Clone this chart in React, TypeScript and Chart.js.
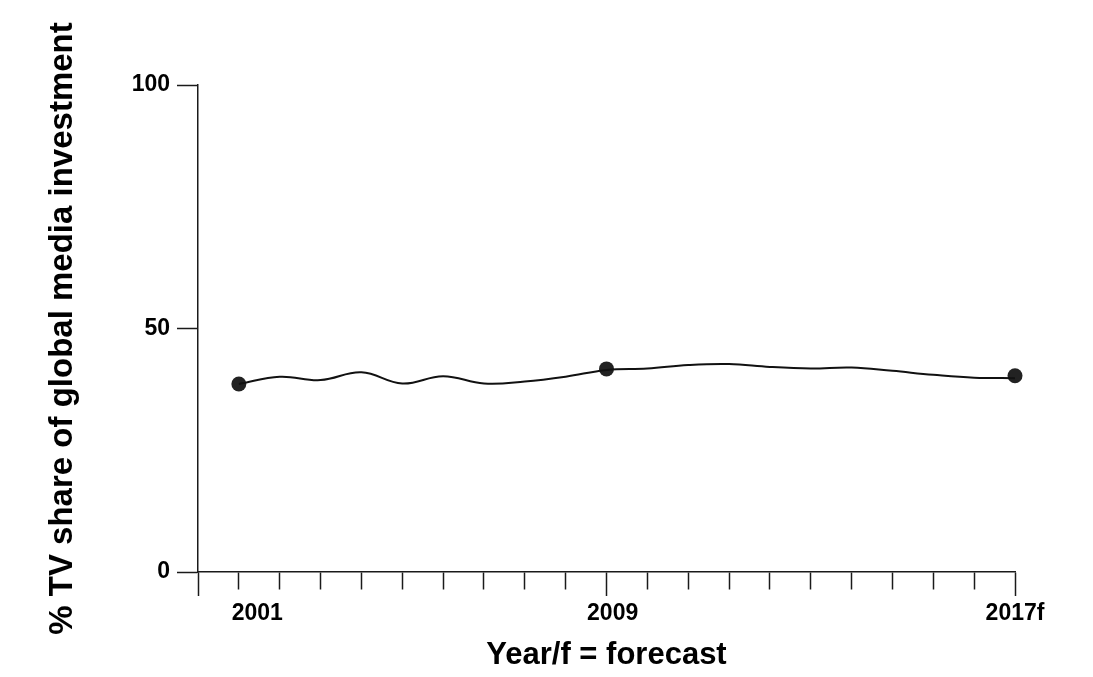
import { useEffect, useRef } from 'react';
import { Chart, registerables } from 'chart.js';

Chart.register(...registerables);

// x positions along the axis (one unit per tick mark)
const periods = [1, 2, 3, 4, 5, 6, 7, 8, 9, 10, 11, 12, 13, 14, 15, 16, 17, 18, 19, 20];
// % TV share of global media investment
const tvShare = [38.6, 40.1, 39.4, 41.0, 38.7, 40.2, 38.7, 39.1, 40.1, 41.5, 41.8, 42.5, 42.7, 42.1, 41.8, 42.0, 41.3, 40.5, 39.9, 39.8];
// highlighted years
const markerPeriods = [1, 10, 20];
const markerShare = [38.6, 41.7, 40.3];
// x tick labels and where they sit
const yearLabels = ['2001', '2009', '2017f'];
const yearLabelAt = [1.45, 10.15, 20];
const majorTicks = [0, 10, 20];
const yTicks = [0, 50, 100];

const FONT = '"Liberation Sans", Arial, Helvetica, sans-serif';
const INK = '#1a1a1a';

export default function App() {
  const ref = useRef<HTMLCanvasElement>(null);

  useEffect(() => {
    const canvas = ref.current;
    if (!canvas) return;
    const tickValues: number[] = [];
    for (let i = 0; i <= 20; i++) tickValues.push(i);
    yearLabelAt.forEach((v) => {
      if (!tickValues.includes(v)) tickValues.push(v);
    });
    tickValues.sort((a, b) => a - b);
    const labelFor = (v: number) => {
      const idx = yearLabelAt.findIndex((p) => Math.abs(p - v) < 1e-6);
      return idx >= 0 ? yearLabels[idx] : '';
    };
    const isLabelOnly = (v: number) => !Number.isInteger(v);

    const chart = new Chart(canvas, {
      type: 'line',
      data: {
        datasets: [
          {
            data: periods.map((p, i) => ({ x: p, y: tvShare[i] })),
            borderColor: '#111',
            borderWidth: 2,
            pointRadius: 0,
            tension: 0.4,
            fill: false,
            clip: false,
          } as any,
          {
            type: 'scatter',
            data: markerPeriods.map((p, i) => ({ x: p, y: markerShare[i] })),
            pointRadius: 7.5,
            pointBackgroundColor: '#222',
            pointBorderWidth: 0,
            showLine: false,
            clip: false,
          } as any,
        ],
      },
      options: {
        animation: false,
        responsive: false,
        layout: { padding: { top: 85, right: 78, bottom: 0, left: 0 } },
        plugins: { legend: { display: false }, tooltip: { enabled: false } },
        scales: {
          x: {
            type: 'linear',
            min: 0,
            max: 20,
            afterBuildTicks: (scale: any) => {
              scale.ticks = tickValues.map((v) => ({ value: v }));
            },
            afterFit: (scale: any) => {
              scale.height = 105;
            },
            ticks: {
              autoSkip: false,
              maxRotation: 0,
              minRotation: 0,
              padding: 4,
              color: '#000',
              font: { family: FONT, size: 23, weight: 'bold' },
              callback: (v: any) => labelFor(Number(v)),
            },
            grid: {
              drawOnChartArea: false,
              drawTicks: true,
              tickLength: 24,
              tickWidth: 1.5,
              tickColor: (ctx: any) => (ctx.tick && isLabelOnly(ctx.tick.value) ? 'rgba(0,0,0,0)' : INK),
              tickBorderDash: (ctx: any) =>
                ctx.tick && majorTicks.includes(ctx.tick.value) ? [] : [17, 40],
            } as any,
            border: { display: true, color: INK, width: 1.5 },
            title: {
              display: true,
              text: 'Year/f = forecast',
              color: '#000',
              font: { family: FONT, size: 31, weight: 'bold' },
              padding: { top: 0, bottom: 3 },
            },
          },
          y: {
            type: 'linear',
            min: 0,
            max: 100,
            afterBuildTicks: (scale: any) => {
              scale.ticks = yTicks.map((v) => ({ value: v }));
            },
            afterFit: (scale: any) => {
              scale.width = 198;
            },
            ticks: {
              padding: 7,
              color: '#000',
              font: { family: FONT, size: 23, weight: 'bold' },
            },
            grid: {
              drawOnChartArea: false,
              drawTicks: true,
              tickLength: 21,
              tickWidth: 1.5,
              tickColor: INK,
            },
            border: { display: true, color: INK, width: 1.5 },
            title: {
              display: true,
              text: '% TV share of global media investment',
              color: '#000',
              font: { family: FONT, size: 33, weight: 'bold' },
              padding: { top: 43, bottom: 0 },
            },
          },
        },
      },
    });
    return () => chart.destroy();
  }, []);

  return (
    <canvas
      ref={ref}
      width={1093}
      height={677}
      style={{ position: 'fixed', left: 0, top: 0, display: 'block', width: 1093, height: 677 }}
    />
  );
}
